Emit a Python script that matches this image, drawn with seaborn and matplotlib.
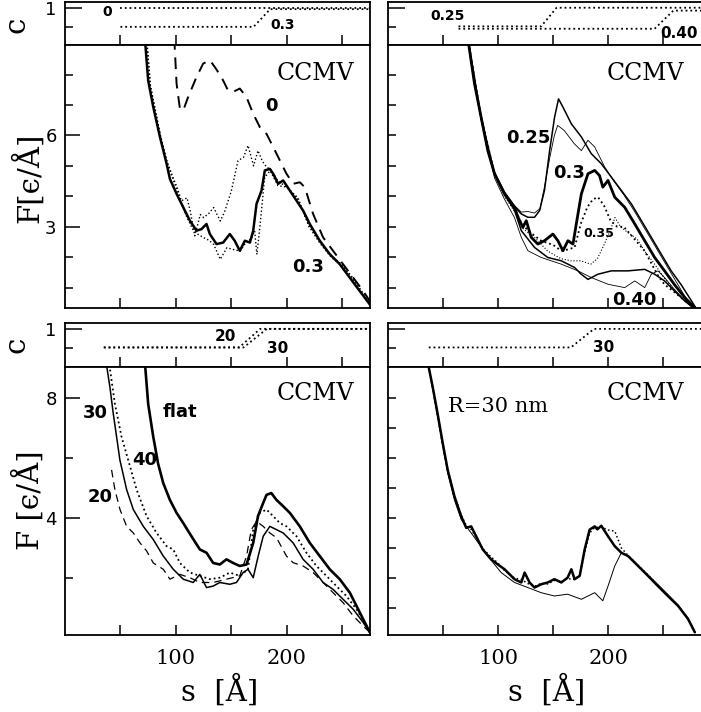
import numpy as np
import pandas as pd
import matplotlib
matplotlib.use("Agg")
import matplotlib.pyplot as plt
from matplotlib.ticker import FixedLocator, NullFormatter
import seaborn as sns

sns.set_style("ticks")
plt.rcParams['font.family'] = ['DejaVu Sans']
plt.rcParams.update({"text.color": "black", "axes.labelcolor": "black",
                     "xtick.color": "black", "ytick.color": "black",
                     "axes.edgecolor": "black"})

# ---------------- c(s) curves (small top strips) ----------------
c_tl_s0 = [50, 275];                 c_tl_v0 = [1.0, 1.0]
c_tl_s3 = [50, 170, 185, 275];       c_tl_v3 = [0.6, 0.6, 0.97, 0.97]
c_tr_s25 = [64, 139, 153, 285];      c_tr_v25 = [0.61, 0.61, 1.0, 1.0]
c_tr_s40 = [64, 242, 259, 285];      c_tr_v40 = [0.56, 0.56, 0.94, 0.94]
c_bl_s20 = [35, 157, 176, 275];      c_bl_v20 = [0.62, 0.62, 1.0, 1.0]
c_bl_s30 = [35, 161, 182, 275];      c_bl_v30 = [0.62, 0.62, 1.0, 1.0]
c_br_s30 = [37, 166, 187, 285];      c_br_v30 = [0.62, 0.62, 1.0, 1.0]

# ---------------- top left: F(s), c = 0 and c = 0.3 ----------------
tl_s_thick = [72, 75, 79.6, 85.6, 91.6, 94.6, 100.6, 106.6, 112.6, 118.6, 123, 127.6, 130.6,
              136.6, 142.6, 148.6, 153, 157.6, 162.2, 166.7, 169.7, 172.7, 177.2, 180.2, 184.7,
              187.7, 192.2, 196.7, 202.7, 208.7, 214.7, 220.7, 229.7, 238.7, 247.7, 256.7, 265.7, 274.8]
tl_F_thick = [9.2, 7.8, 6.93, 5.95, 5.07, 4.57, 4.08, 3.64, 3.2, 2.87, 2.92, 3.09, 2.76,
              2.43, 2.48, 2.76, 2.54, 2.21, 2.54, 2.48, 2.87, 3.75, 4.19, 4.85, 4.9,
              4.74, 4.41, 4.52, 4.19, 3.86, 3.53, 3.09, 2.54, 2.1, 1.77, 1.33, 0.89, 0.45]
tl_s_dotA = [74, 77, 86, 92, 97, 101, 105, 110, 113, 117, 122, 125, 130, 134, 140, 144, 150, 156,
             161, 165, 170, 174, 178, 182, 185, 192, 200, 210, 220, 230, 240, 250, 260, 268, 275]
tl_F_dotA = [9.0, 7.6, 6.0, 5.15, 4.65, 4.3, 3.85, 3.95, 3.5, 2.7, 3.4, 3.3, 3.45, 3.63, 3.19, 3.5,
             4.18, 5.17, 5.28, 5.67, 5.0, 5.5, 5.15, 4.95, 4.9, 4.5, 4.3, 3.95, 3.0, 2.45, 2.0, 1.7,
             1.25, 0.8, 0.4]
tl_s_dotB = [74, 77, 86, 92, 97, 101, 104, 110, 116, 120, 125, 130, 134, 140, 146, 152, 158, 164,
             168, 171, 173, 176, 180, 185, 192, 200, 210, 220, 230, 240, 250, 260, 268, 275]
tl_F_dotB = [9.0, 7.65, 6.0, 5.1, 4.6, 4.2, 3.85, 3.3, 2.86, 2.75, 2.64, 2.55, 2.42, 1.93, 2.31,
             2.25, 2.2, 2.53, 2.6, 2.86, 2.09, 3.09, 4.62, 4.84, 4.35, 4.3, 3.9, 3.05, 2.5, 2.05,
             1.75, 1.3, 0.85, 0.45]
tl_s_dash = [98.5, 100.6, 103.6, 106.6, 111, 118.6, 124.6, 130.6, 135, 141, 147, 151.6, 157.6,
             163.6, 169.7, 175.7, 181.7, 187.7, 193.7, 199.7, 205.7, 211.7, 216.2, 223.7, 232.7,
             241.7, 250.7, 259.8, 268.8, 275]
tl_F_dash = [9.2, 7.7, 6.88, 6.82, 7.26, 7.92, 8.36, 8.47, 8.25, 7.92, 7.48, 7.43, 7.54,
             7.26, 6.71, 6.27, 6.05, 5.62, 5.18, 4.74, 4.41, 4.46, 4.3, 3.42, 2.65,
             2.21, 1.77, 1.33, 0.89, 0.55]

# ---------------- top right: c = 0.25 ... 0.40 ----------------
tr_s_25a = [72.4, 78.5, 84.5, 90.6, 96.7, 105.8, 114.8, 121, 127, 133, 137.6, 142, 146.7, 151.2,
            154.8, 158.8, 166.4, 175.5, 184.5, 193.6, 202.7, 211.8, 220.9, 230, 239, 248, 257, 266,
            275.5, 280]
tr_F_25a = [9.2, 7.7, 6.6, 5.5, 4.74, 4.1, 3.66, 3.42, 3.31, 3.31, 3.53, 4.19, 5.5, 6.6,
            7.2, 6.93, 6.38, 5.95, 5.4, 5.07, 4.63, 4.19, 3.75, 3.2, 2.65, 2.1, 1.55, 1.1,
            0.56, 0.3]
tr_s_25b = [72.4, 78.5, 84.5, 90.6, 96.7, 105.8, 114.8, 121, 127, 133, 138, 142, 147, 151, 154,
            160, 169, 175.5, 181.5, 187.6, 196.7, 205, 214, 223, 232, 241, 250, 259, 268, 277]
tr_F_25b = [9.2, 7.75, 6.65, 5.55, 4.8, 4.15, 3.7, 3.48, 3.5, 3.45, 3.6, 4.3, 5.3, 6.0, 6.33,
            6.16, 5.73, 5.5, 5.84, 5.62, 4.96, 4.5, 4.05, 3.55, 3.0, 2.45, 1.9, 1.35, 0.8, 0.3]
tr_s_30 = [72.4, 78.5, 84.5, 90.6, 96.7, 105.8, 114.8, 118, 122.4, 125.5, 130, 136, 142, 149.7,
           154.2, 158.8, 163.3, 167.9, 170.9, 175.5, 181.5, 187.6, 192, 195, 199.7, 205.8, 214.8,
           224, 233, 242, 251, 260, 269.4, 278.5]
tr_F_30 = [9.2, 7.7, 6.6, 5.5, 4.74, 4.08, 3.64, 3.31, 2.98, 3.2, 2.65, 2.43, 2.54, 2.76,
           2.54, 2.21, 2.54, 2.43, 3.09, 4.08, 4.74, 4.85, 4.68, 4.3, 4.52, 3.97, 3.64,
           3.09, 2.54, 1.99, 1.55, 1.1, 0.67, 0.34]
tr_s_35a = [72.4, 84.5, 96.7, 105.8, 114.8, 120, 127, 139, 150, 157.3, 163, 169.4, 175, 181,
            186, 190.6, 196, 202, 208, 214, 220, 226, 233, 239, 245, 251, 260, 270, 280]
tr_F_35a = [9.2, 6.6, 4.74, 4.1, 3.6, 3.2, 2.87, 2.54, 2.4, 2.21, 2.25, 2.32, 3.1, 3.65,
            3.9, 3.97, 3.7, 3.2, 3.0, 3.0, 2.75, 2.5, 2.2, 1.8, 1.4, 1.1, 0.85, 0.55, 0.3]
tr_s_35b = [72.4, 84.5, 96.7, 105.8, 114.8, 122, 133, 145, 157, 166, 175, 184, 190, 196, 202,
            206, 211, 218, 226, 233, 242, 251, 260, 270, 280]
tr_F_35b = [9.2, 6.55, 4.7, 4.0, 3.5, 2.95, 2.65, 2.2, 1.95, 1.88, 1.88, 1.77, 1.95, 2.4, 2.9,
            3.3, 3.0, 2.8, 2.6, 2.2, 1.77, 1.3, 0.9, 0.55, 0.3]
tr_s_40a = [72.4, 84.5, 96.7, 105.8, 114.8, 121, 133, 145, 157.3, 169.4, 175, 181.5, 190.6,
            202.7, 217.9, 233, 242, 251, 260, 269.4, 278.5]
tr_F_40a = [9.2, 6.6, 4.74, 4.05, 3.55, 2.87, 2.32, 1.99, 1.88, 1.66, 1.45, 1.27, 1.44,
            1.55, 1.55, 1.6, 1.44, 1.22, 0.89, 0.56, 0.29]
tr_s_40b = [72.4, 84.5, 96.7, 105.8, 114.8, 121, 127, 139, 157.3, 172.4, 184.5, 199.7, 214.8,
            224, 233, 239, 245, 251, 260, 270, 280]
tr_F_40b = [9.2, 6.5, 4.6, 3.9, 3.3, 2.65, 2.21, 1.99, 1.77, 1.55, 1.33, 1.11, 1.0,
            1.22, 1.0, 1.44, 1.55, 1.33, 0.94, 0.55, 0.25]

# ---------------- bottom left: sphere radius 20/30/40 nm and flat ----------------
bl_s_flat = [72, 75, 79.6, 84, 88.6, 94.6, 100.6, 106.6, 114, 121.6, 127.6, 133.6, 139.6, 145.6,
             151.6, 157.6, 163.7, 169.7, 174, 178.7, 181.7, 186, 190.7, 196.7, 202.7, 211.7,
             220.7, 229.7, 238.7, 247.7, 256.8, 265.8, 274.8]
bl_F_flat = [9.2, 7.8, 6.7, 5.8, 5.16, 4.6, 4.17, 3.83, 3.39, 2.95, 2.84, 2.5, 2.45, 2.62,
             2.5, 2.4, 2.45, 3.17, 4.06, 4.5, 4.77, 4.83, 4.6, 4.39, 4.17, 3.72,
             3.17, 2.73, 2.29, 1.96, 1.51, 0.85, 0.19]
bl_s_30 = [37, 40.5, 43.5, 46.5, 49.5, 55.6, 61.6, 70.6, 79.6, 88.6, 97.6, 106.6, 115.6, 121.6,
           127.6, 133.6, 139.6, 148.6, 154.6, 160.6, 165, 169.7, 174.2, 178.7, 184.7, 190.7,
           196.7, 205.7, 214.7, 223.7, 232.7, 241.7, 250.7, 259.8, 268.8, 274.8]
bl_F_30 = [9.2, 8.36, 7.48, 6.71, 5.93, 4.94, 4.28, 3.72, 3.28, 2.73, 2.29, 1.96, 1.85, 2.12,
           1.68, 1.73, 1.85, 1.79, 1.85, 2.18, 2.29, 2.01, 2.73, 3.39, 3.72, 3.61,
           3.5, 3.17, 2.62, 2.29, 1.85, 1.62, 1.29, 0.96, 0.52, 0.19]
bl_s_40 = [40, 45, 51, 57, 64.6, 73.6, 82.6, 91.6, 97.6, 103.6, 112.6, 121.6, 130.6, 139.6,
           148.6, 157.6, 165, 169.7, 175.7, 181.7, 187.7, 193.7, 199.7, 208.7, 217.7, 226.7,
           235.7, 244.7, 253.7, 262.8, 271.8, 275]
bl_F_40 = [9.1, 7.8, 6.7, 5.93, 4.94, 4.06, 3.5, 3.06, 2.95, 2.5, 2.18, 2.07, 1.96, 2.01,
           2.18, 2.07, 2.29, 3.61, 4.17, 4.28, 4.06, 3.83, 3.72, 3.39, 2.84, 2.4,
           2.07, 1.73, 1.4, 0.96, 0.41, 0.25]
bl_s_20 = [42, 45, 49.6, 55.6, 61.6, 67.6, 73.6, 79.6, 88.6, 94.6, 103.6, 112.6, 121.6, 133.6,
           145.6, 157.6, 163.7, 168, 172.7, 178.7, 184.7, 190.7, 199.7, 205.7, 214.7, 223.7,
           232.7, 241.7, 250.7, 259.8, 268.8, 273]
bl_F_20 = [5.6, 4.94, 4.28, 3.72, 3.5, 3.17, 2.9, 2.5, 2.29, 1.96, 2.12, 2.01, 1.85, 1.85,
           1.96, 2.07, 2.73, 3.61, 3.89, 3.72, 3.5, 3.34, 2.73, 2.51, 2.4, 2.18,
           1.85, 1.51, 1.18, 0.74, 0.4, 0.25]

# ---------------- bottom right: R = 30 nm ----------------
br_s_thick = [36, 40.6, 45, 49.7, 54.2, 60.3, 66.4, 71, 75.5, 80, 86, 93.6, 99.7, 105.8, 114.8,
              121, 124, 128.5, 133, 139, 145, 151, 157.3, 163, 166.4, 169.4, 174, 178.5, 183,
              187.6, 190, 193.6, 199.7, 205.8, 211.8, 217.9, 227, 236, 245, 254, 263.3, 272.4, 278.5]
br_F_thick = [9.2, 8.36, 7.48, 6.49, 5.6, 4.72, 4.06, 3.67, 3.72, 3.39, 2.95, 2.62, 2.45, 2.29, 1.96,
              1.85, 2.18, 1.85, 1.68, 1.79, 1.85, 1.96, 1.85, 2.01, 2.29, 1.96, 2.07, 2.95, 3.61,
              3.72, 3.62, 3.74, 3.39, 3.06, 2.84, 2.73, 2.4, 2.07, 1.73, 1.4, 1.07, 0.63, 0.19]
br_s_dot = [36, 40.6, 45, 49.7, 54.2, 60.3, 66.4, 71, 75.5, 80, 86, 93.6, 99.7, 105.8, 114.8,
            121, 128.5, 133, 139, 145, 151, 157.3, 163, 169.4, 174, 178.5, 183, 187.6, 193.6,
            199.7, 205.8, 211.8, 217.9, 227, 236, 245, 254, 263.3, 272.4, 278.5]
br_F_dot = [9.2, 8.3, 7.4, 6.4, 5.55, 4.75, 4.1, 3.75, 3.62, 3.35, 2.98, 2.7, 2.5, 2.25, 2.0,
            1.95, 1.78, 1.72, 1.82, 1.8, 1.92, 1.88, 1.98, 1.95, 2.1, 2.85, 3.5,
            3.68, 3.7, 3.6, 3.56, 3.0, 2.75, 2.42, 2.1, 1.75, 1.42, 1.08, 0.65, 0.2]
br_s_thin = [36, 40.6, 45, 49.7, 54.2, 60.3, 66.4, 75.5, 90.6, 102.7, 114.8, 127, 139, 151, 163,
             175.5, 187.6, 195, 199.7, 205.8, 211.8, 217.9, 227, 236, 245, 254, 263.3, 272.4, 278.5]
br_F_thin = [9.2, 8.3, 7.4, 6.4, 5.5, 4.6, 3.95, 3.5, 2.73, 2.18, 1.85, 1.68, 1.51, 1.4, 1.46,
             1.29, 1.51, 1.24, 1.73, 2.4, 2.84, 2.75, 2.42, 2.1, 1.78, 1.45, 1.1, 0.65, 0.2]

W, H = 701, 712
fig = plt.figure(figsize=(W / 100, H / 100), dpi=100)


def px_axes(x0, y0, x1, y1):
    return fig.add_axes([x0 / W, 1 - y1 / H, (x1 - x0) / W, (y1 - y0) / H])


def curve(ax, s, F, lw=1.0, ls="-"):
    df = pd.DataFrame({"s": s, "F": F})
    sns.lineplot(data=df, x="s", y="F", ax=ax, color="black", lw=lw, ls=ls,
                 sort=False, estimator=None)


def style_axes(ax, xlim, ylim, ymajor, yminor, ylabels, xlabels, ymaj_len=11):
    ax.set_xlim(*xlim)
    ax.set_ylim(*ylim)
    ax.xaxis.set_major_locator(FixedLocator([100, 200]))
    ax.xaxis.set_minor_locator(FixedLocator([50, 150, 250]))
    ax.yaxis.set_major_locator(FixedLocator(ymajor))
    ax.yaxis.set_minor_locator(FixedLocator(yminor))
    ax.tick_params(which="both", direction="in", top=False, right=False, width=1.1)
    ax.tick_params(axis="x", which="both", length=7)
    ax.tick_params(axis="y", which="major", length=ymaj_len, pad=6, labelsize=13)
    ax.tick_params(axis="y", which="minor", length=6)
    ax.tick_params(axis="x", which="major", pad=10, labelsize=15)
    for lab in ax.get_xticklabels():
        lab.set_fontfamily("DejaVu Serif")
    if not ylabels:
        ax.yaxis.set_major_formatter(NullFormatter())
    if not xlabels:
        ax.xaxis.set_major_formatter(NullFormatter())
    ax.set_xlabel("")
    ax.set_ylabel("")
    for sp in ax.spines.values():
        sp.set_linewidth(1.3)


# top strips
ax_ctl = px_axes(65, 2, 370, 45)
ax_ctr = px_axes(388, 2, 702, 45)
ax_cbl = px_axes(65, 323, 370, 367)
ax_cbr = px_axes(388, 323, 702, 367)
# main panels
ax_tl = px_axes(65, 45, 370, 308)
ax_tr = px_axes(388, 45, 702, 308)
ax_bl = px_axes(65, 367, 370, 635)
ax_br = px_axes(388, 367, 702, 635)

# c strips
curve(ax_ctl, c_tl_s0, c_tl_v0, lw=1.3, ls=":")
curve(ax_ctl, c_tl_s3, c_tl_v3, lw=1.3, ls=":")
curve(ax_ctr, c_tr_s25, c_tr_v25, lw=1.3, ls=":")
curve(ax_ctr, c_tr_s40, c_tr_v40, lw=1.3, ls=":")
curve(ax_cbl, c_bl_s20, c_bl_v20, lw=1.3, ls=":")
curve(ax_cbl, c_bl_s30, c_bl_v30, lw=1.3, ls=":")
curve(ax_cbr, c_br_s30, c_br_v30, lw=1.3, ls=":")

for ax, xl, lab in [(ax_ctl, (0, 275), True), (ax_ctr, (0, 285), False),
                    (ax_cbl, (0, 275), True), (ax_cbr, (0, 285), False)]:
    style_axes(ax, xl, (0.22, 1.12), [1.0], [0.6], lab, False, ymaj_len=12)

bold = dict(fontweight="bold", ha="center", va="center", color="black")
ax_ctl.text(38, 0.91, "0", fontsize=10, **bold)
ax_ctl.text(196, 0.64, "0.3", fontsize=10, **bold)
ax_ctr.text(54, 0.83, "0.25", fontsize=10, **bold)
ax_ctr.text(264, 0.47, "0.40", fontsize=11, **bold)
ax_cbl.text(145, 0.85, "20", fontsize=11, **bold)
ax_cbl.text(192, 0.59, "30", fontsize=11, **bold)
ax_cbr.text(196, 0.61, "30", fontsize=11, **bold)

# top left
curve(ax_tl, tl_s_dotA, tl_F_dotA, lw=1.0, ls=":")
curve(ax_tl, tl_s_dotB, tl_F_dotB, lw=1.0, ls=":")
curve(ax_tl, tl_s_dash, tl_F_dash, lw=1.4, ls=(0, (6, 4)))
curve(ax_tl, tl_s_thick, tl_F_thick, lw=1.8)
style_axes(ax_tl, (0, 275), (0.33, 8.97), [3, 6], [1, 2, 4, 5, 7, 8], True, False)

# top right
curve(ax_tr, tr_s_25a, tr_F_25a, lw=1.1)
curve(ax_tr, tr_s_25b, tr_F_25b, lw=0.6)
curve(ax_tr, tr_s_35a, tr_F_35a, lw=1.3, ls=":")
curve(ax_tr, tr_s_35b, tr_F_35b, lw=0.8, ls=":")
curve(ax_tr, tr_s_40a, tr_F_40a, lw=1.1)
curve(ax_tr, tr_s_40b, tr_F_40b, lw=0.6)
curve(ax_tr, tr_s_30, tr_F_30, lw=2.0)
style_axes(ax_tr, (0, 285), (0.33, 8.97), [], [1, 2, 3, 4, 5, 6, 7, 8], False, False)

# bottom left
curve(ax_bl, bl_s_20, bl_F_20, lw=0.9, ls=(0, (6, 4)))
curve(ax_bl, bl_s_40, bl_F_40, lw=1.3, ls=":")
curve(ax_bl, bl_s_30, bl_F_30, lw=1.1)
curve(ax_bl, bl_s_flat, bl_F_flat, lw=1.9)
style_axes(ax_bl, (0, 275), (0.1, 9.03), [4, 8], [2, 6], True, True)

# bottom right
curve(ax_br, br_s_thin, br_F_thin, lw=0.7)
curve(ax_br, br_s_dot, br_F_dot, lw=1.1, ls=":")
curve(ax_br, br_s_thick, br_F_thick, lw=1.8)
style_axes(ax_br, (0, 285), (0.1, 9.03), [], [1, 2, 3, 4, 5, 6, 7, 8], False, True)

# in-panel labels
serif = dict(fontfamily="DejaVu Serif", ha="center", va="center", color="black")
for ax in (ax_tl, ax_tr, ax_bl, ax_br):
    ax.text(0.82, 0.89 if ax in (ax_tl, ax_tr) else 0.9, "CCMV", transform=ax.transAxes,
            fontsize=17, **serif)
ax_tl.text(186.5, 6.96, "0", fontsize=13, **bold)
ax_tl.text(219, 1.68, "0.3", fontsize=13, **bold)
ax_tr.text(127, 5.9, "0.25", fontsize=13, **bold)
ax_tr.text(164.5, 4.78, "0.3", fontsize=13, **bold)
ax_tr.text(191, 2.77, "0.35", fontsize=9, **bold)
ax_tr.text(223.6, 0.6, "0.40", fontsize=13, **bold)
ax_bl.text(27, 7.5, "30", fontsize=13, **bold)
ax_bl.text(103.6, 7.53, "flat", fontsize=13, **bold)
ax_bl.text(72, 5.93, "40", fontsize=13, **bold)
ax_bl.text(31.5, 4.7, "20", fontsize=13, **bold)
ax_br.text(100, 7.7, "R=30 nm", fontsize=15, **serif)

# axis labels
lab = dict(fontfamily="DejaVu Serif", ha="center", va="center", fontsize=21, color="black")
fig.text(16 / W, 1 - 25 / H, "c", rotation=90, **lab)
fig.text(16 / W, 1 - 345 / H, "c", rotation=90, **lab)
fig.text(28 / W, 1 - 178 / H, "F[ϵ/Å]", rotation=90, **lab)
fig.text(28 / W, 1 - 500 / H, "F [ϵ/Å]", rotation=90, **lab)
fig.text(220 / W, 1 - 690 / H, "s  [Å]", **lab)
fig.text(547 / W, 1 - 690 / H, "s  [Å]", **lab)

fig.savefig("out.png", dpi=100)
